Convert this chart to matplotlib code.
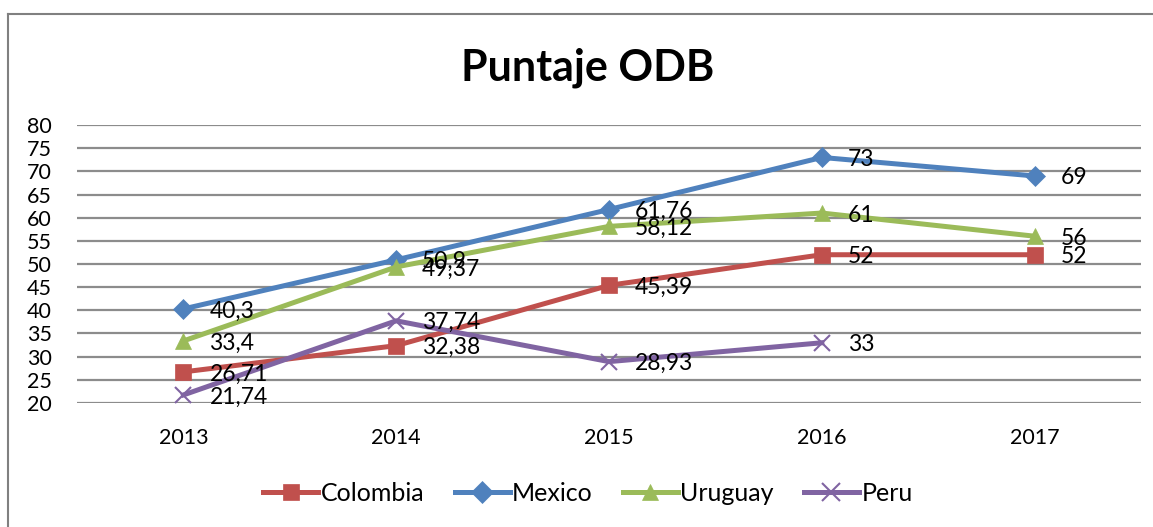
import matplotlib.pyplot as plt
from matplotlib.lines import Line2D

plt.rcParams['font.family'] = ['Lato', 'DejaVu Sans']

years = ["2013", "2014", "2015", "2016", "2017"]
colombia = [26.71, 32.38, 45.39, 52, 52]
mexico = [40.3, 50.9, 61.76, 73, 69]
uruguay = [33.4, 49.37, 58.12, 61, 56]
peru = [21.74, 37.74, 28.93, 33, None]

series = [
    ("Colombia", colombia, "#C0504D", "s"),
    ("Mexico", mexico, "#4F81BD", "D"),
    ("Uruguay", uruguay, "#9BBB59", "^"),
    ("Peru", peru, "#8064A2", "x"),
]

fig = plt.figure(figsize=(11.53, 5.27), dpi=100)
ax = fig.add_axes([0.0668, 0.2353, 0.9228, 0.5275])

x = list(range(len(years)))
for name, vals, color, mk in series:
    xs = [i for i, v in zip(x, vals) if v is not None]
    ys = [v for v in vals if v is not None]
    msize = 11 if mk in ("s", "^") else (10 if mk == "D" else 12)
    ax.plot(xs, ys, color=color, lw=3.6, marker=mk, markersize=msize,
            markeredgewidth=1.5 if mk == "x" else 0.5, markeredgecolor=color,
            label=name, zorder=3)
    for xi, yi in zip(xs, ys):
        txt = f"{yi:g}".replace(".", ",")
        ax.annotate(txt, (xi, yi), xytext=(26, -2), textcoords="offset pixels",
                    ha="left", va="center", fontsize=16.5, color="black", zorder=4)

ax.set_xlim(-0.5, 4.5)
ax.set_ylim(20, 80)
ax.set_yticks(range(20, 81, 5))
ax.set_xticks(x)
ax.set_xticklabels(years)
ax.tick_params(axis="both", length=0, labelsize=15.5)
ax.tick_params(axis="y", pad=18)
ax.tick_params(axis="x", pad=18)
ax.grid(axis="y", color="#8c8c8c", lw=1.6)
ax.set_axisbelow(True)
for s in ax.spines.values():
    s.set_visible(False)

fig.text(0.51, 0.871, "Puntaje ODB", ha="center", va="center",
         fontsize=31, fontweight="bold")

handles = [Line2D([], [], color=c, lw=3.6, marker=m,
                  markersize=12 if m in ("s", "^") else (11 if m == "D" else 13),
                  markeredgewidth=1.5 if m == "x" else 0.5, markeredgecolor=c)
           for _, _, c, m in series]
fig.legend(handles, [s[0] for s in series], loc="center", bbox_to_anchor=(0.51, 0.064),
           ncol=4, frameon=False, fontsize=18, handlelength=2.2, handletextpad=0.1,
           columnspacing=1.2)

# chart border (top and left edges visible)
fig.add_artist(Line2D([8 / 1153, 1.0], [1 - 14 / 527, 1 - 14 / 527],
                      transform=fig.transFigure, color="#808080", lw=1.5))
fig.add_artist(Line2D([8 / 1153, 8 / 1153], [0.0, 1 - 14 / 527],
                      transform=fig.transFigure, color="#808080", lw=1.5))

fig.savefig("out.png", dpi=100)
